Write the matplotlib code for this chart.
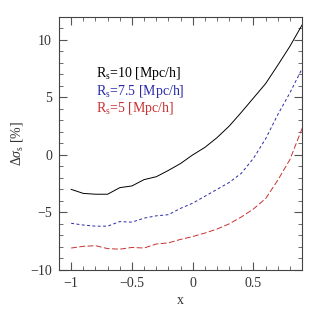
import matplotlib
matplotlib.use("Agg")
import matplotlib.pyplot as plt
from matplotlib.ticker import MultipleLocator, FuncFormatter

x = [-1.0, -0.9, -0.8, -0.7, -0.6, -0.5, -0.4, -0.3, -0.2, -0.1,
     0.0, 0.1, 0.2, 0.3, 0.4, 0.5, 0.6, 0.7, 0.8, 0.9]
rs10 = [-3.0, -3.35, -3.42, -3.42, -2.85, -2.7, -2.15, -1.9, -1.35, -0.75,
        0.0, 0.65, 1.5, 2.5, 3.7, 4.95, 6.2, 7.8, 9.45, 11.3]
rs75 = [-5.95, -6.1, -6.2, -6.2, -5.8, -5.85, -5.5, -5.3, -5.2, -4.65,
        -4.2, -3.6, -3.0, -2.4, -1.6, -0.3, 1.4, 3.5, 5.4, 7.5]
rs5 = [-8.1, -7.95, -7.9, -8.15, -8.2, -8.05, -8.1, -7.75, -7.65, -7.35,
       -7.1, -6.8, -6.45, -6.0, -5.4, -4.7, -3.8, -2.2, -0.4, 2.3]
labels = [r"R$_{\rm s}$=10 [Mpc/h]", r"R$_{\rm s}$=7.5 [Mpc/h]", r"R$_{\rm s}$=5 [Mpc/h]"]

plt.rcParams['font.family'] = ['Liberation Serif']
plt.rcParams['mathtext.fontset'] = 'custom'
plt.rcParams['mathtext.rm'] = 'Liberation Serif'
plt.rcParams['mathtext.it'] = 'Liberation Serif:italic'

fig = plt.figure(figsize=(3.19, 3.19), dpi=100)
ax = fig.add_axes([0.185, 0.154, 0.762, 0.793])

ax.plot(x, rs10, color='black', lw=0.7)
ax.plot(x, rs75, color='#2a2aa8', lw=0.7, dashes=(3, 2.5))
ax.plot(x, rs5, color='#c83232', lw=0.7, dashes=(6, 2.5))

ax.set_xlim(-1.1, 0.9)
ax.set_ylim(-10, 12)
ax.xaxis.set_major_locator(MultipleLocator(0.5))
ax.xaxis.set_minor_locator(MultipleLocator(0.1))
ax.yaxis.set_major_locator(MultipleLocator(5))
ax.yaxis.set_minor_locator(MultipleLocator(1))
ax.tick_params(which='both', direction='in', top=True, right=True,
               labelsize=10, color='#555555', labelcolor='#333333')
ax.tick_params(which='major', length=6, width=0.8, pad=5)
ax.tick_params(which='minor', length=3, width=0.6)
for s in ax.spines.values():
    s.set_color('#444444')
    s.set_linewidth(0.8)

fmt = FuncFormatter(lambda v, p: ('\u2212' if v < 0 else '') + ('%g' % abs(v)))
ax.xaxis.set_major_formatter(fmt)
ax.yaxis.set_major_formatter(fmt)

ax.set_xlabel('x', fontsize=10, labelpad=3, color='#333333')
ax.set_ylabel(r'$\Delta\sigma_{\rm s}$ [%]', fontsize=10, labelpad=4, color='#333333')

colors = ['black', '#2a2aa8', '#c83232']
for i, (lab, c) in enumerate(zip(labels, colors)):
    ax.text(0.152, 0.775 - i * 0.068, lab, transform=ax.transAxes,
            color=c, fontsize=10, va='center', ha='left')

fig.savefig('out.png', dpi=100)
